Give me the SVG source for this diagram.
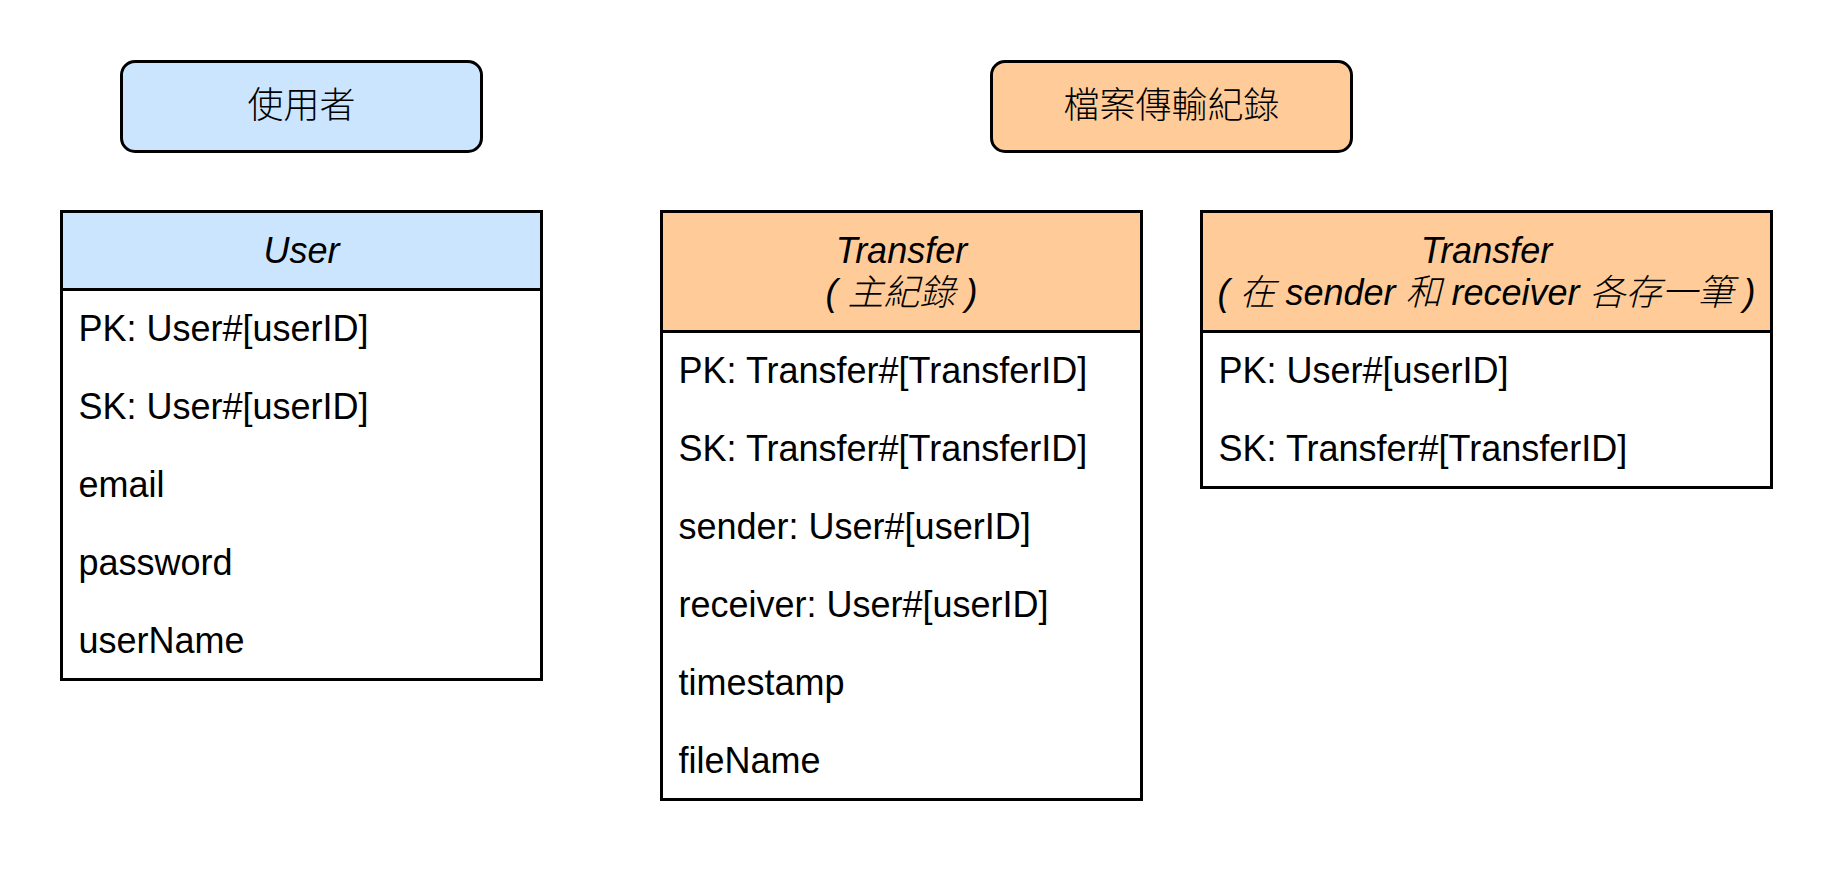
<svg xmlns="http://www.w3.org/2000/svg" width="1833" height="873" viewBox="0 0 1833 873">
<style>
  text { font-family: "Liberation Sans", "Noto Sans CJK TC", sans-serif; font-size: 36px; fill: #000; }
  .title { text-anchor: middle; font-family: "Noto Sans CJK TC", sans-serif; font-weight: 300; }
  .hdr { text-anchor: middle; font-style: italic; }
  .cjk { font-family: "Noto Sans CJK TC", sans-serif; font-weight: 300; }
  .box { stroke: #000; stroke-width: 3; }
  .blue { fill: #cce5ff; }
  .orange { fill: #ffcc99; }
  .white { fill: #ffffff; }
</style>
<rect width="1833" height="873" fill="#ffffff"/>
<g id="label-user">
  <rect class="box blue" x="121.5" y="61.5" width="360" height="90" rx="13.5" ry="13.5"/>
  <text class="title" x="301.5" y="118">使用者</text>
</g>
<g id="label-transfer">
  <rect class="box orange" x="991.5" y="61.5" width="360" height="90" rx="13.5" ry="13.5"/>
  <text class="title" x="1171.5" y="118">檔案傳輸紀錄</text>
</g>
<g id="table-user">
  <rect class="box white" x="61.5" y="211.5" width="480" height="468"/>
  <rect class="box blue" x="61.5" y="211.5" width="480" height="78"/>
  <text class="hdr" x="301.5" y="263">User</text>
  <text x="78.5" y="341">PK: User#[userID]</text>
  <text x="78.5" y="419">SK: User#[userID]</text>
  <text x="78.5" y="497">email</text>
  <text x="78.5" y="575">password</text>
  <text x="78.5" y="653">userName</text>
</g>
<g id="table-transfer-main">
  <rect class="box white" x="661.5" y="211.5" width="480" height="588"/>
  <rect class="box orange" x="661.5" y="211.5" width="480" height="120"/>
  <text class="hdr" x="901.5" y="263">Transfer</text>
  <text class="hdr" x="901.5" y="305">( <tspan class="cjk">主紀錄</tspan> )</text>
  <text x="678.5" y="383">PK: Transfer#[TransferID]</text>
  <text x="678.5" y="461">SK: Transfer#[TransferID]</text>
  <text x="678.5" y="539">sender: User#[userID]</text>
  <text x="678.5" y="617">receiver: User#[userID]</text>
  <text x="678.5" y="695">timestamp</text>
  <text x="678.5" y="773">fileName</text>
</g>
<g id="table-transfer-copy">
  <rect class="box white" x="1201.5" y="211.5" width="570" height="276"/>
  <rect class="box orange" x="1201.5" y="211.5" width="570" height="120"/>
  <text class="hdr" x="1486.5" y="263">Transfer</text>
  <text class="hdr" x="1486.5" y="305">( <tspan class="cjk">在</tspan> sender <tspan class="cjk">和</tspan> receiver <tspan class="cjk">各存一筆</tspan> )</text>
  <text x="1218.5" y="383">PK: User#[userID]</text>
  <text x="1218.5" y="461">SK: Transfer#[TransferID]</text>
</g>
<g id="connectors"></g>
</svg>
